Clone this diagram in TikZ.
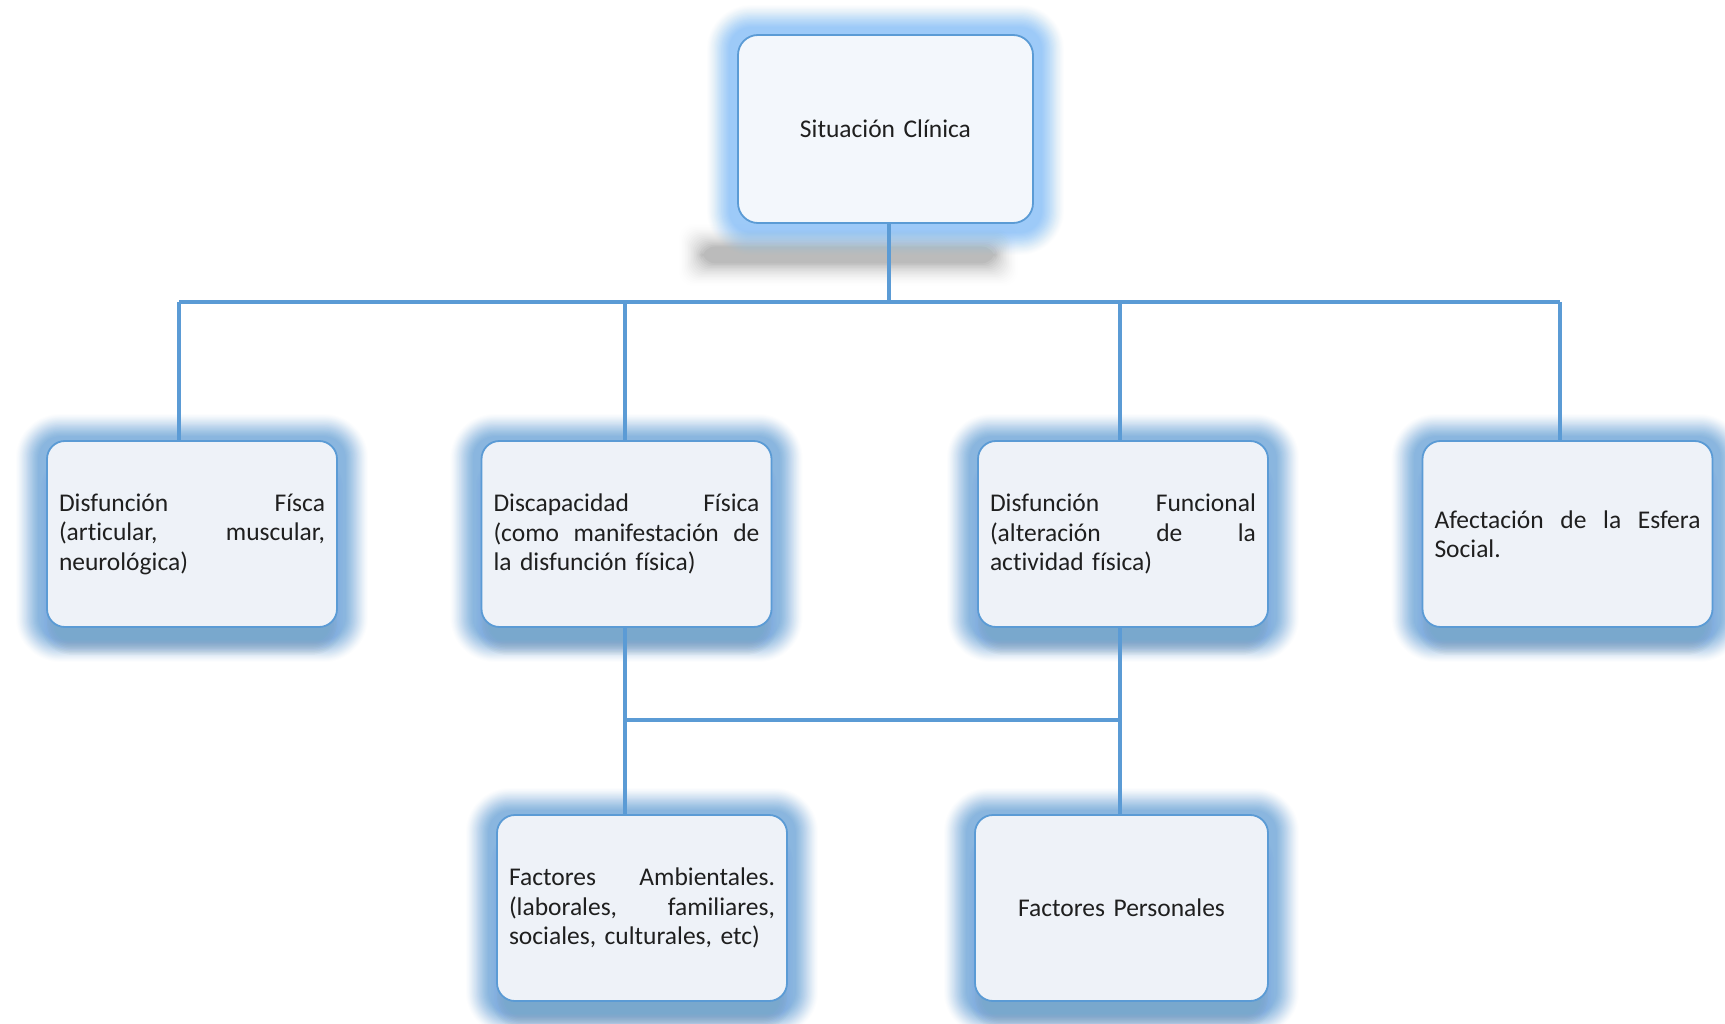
\documentclass[tikz,border=0pt]{standalone}
\usepackage{fontspec}
\setmainfont{Carlito}[Ligatures=NoCommon, WordSpace=0.85]
\usetikzlibrary{calc,backgrounds}

\definecolor{linkblue}{HTML}{5B9BD5}
\definecolor{haloblue}{HTML}{6EA8DF}
\definecolor{halotop}{HTML}{86C2F8}
\definecolor{boxfill}{HTML}{EEF2F8}
\definecolor{topfill}{HTML}{F3F7FC}
\definecolor{inkgray}{HTML}{1F1F1F}

\tikzset{
  card/.style={draw=linkblue, line width=1.8pt, fill=boxfill, rounded corners=18pt,
    minimum width=290pt, minimum height=186pt, inner sep=0pt, text width=266pt,
    align=left, font=\fontsize{25.5}{29.5}\selectfont, text=inkgray},
  link/.style={draw=linkblue, line width=3.4pt},
}

% soft coloured halo around a card: solid near the card, fading outwards
\newcommand{\halo}[3]{% node, colour, downward offset
  \foreach \k in {0,...,20}{%
    \pgfmathsetmacro\ee{8+1.1*\k}%
    \pgfmathsetmacro\rr{14+\ee}%
    \pgfmathsetmacro\op{0.11-0.0045*\k}%
    \fill[#2, opacity=\op, rounded corners=\rr pt]
      ($(#1.north west)+(-\ee,-\ee+#3)$) rectangle ($(#1.south east)+(\ee,\ee+#3)$);
  }}
% darker drop shade under a card
\newcommand{\dropshade}[1]{%
  \foreach \k in {1,...,10}{%
    \pgfmathsetmacro\rr{16+1.5*\k}%
    \fill[black, opacity=0.03, rounded corners=\rr pt]
      ($(#1.north west)+(10-1.5*\k,30-1.5*\k)$) rectangle ($(#1.south east)+(1.5*\k-10,12+1.5*\k)$);
  }}

\begin{document}
\begin{tikzpicture}[x=1pt, y=-1pt]
\begin{pgfonlayer}{background}
  \fill[white] (0,0) rectangle (1725,1024);
\end{pgfonlayer}
\useasboundingbox (0,0) rectangle (1725,1024);

% cards
\node[card, fill=topfill, align=center, minimum width=295pt, minimum height=188pt,
  rounded corners=20pt] (top) at (885.5,129) {Situación Clínica};

\node[card] (b1) at (192,534)
  {Disfunción\hfill Físca\\(articular,\hfill muscular,\\neurológica)};
\node[card] (b2) at (626.5,534)
  {Discapacidad\hfill Física\\(como\hfill manifestación\hfill de\\la disfunción física)};
\node[card] (b3) at (1123,534)
  {Disfunción\hfill Funcional\\(alteración\hfill de\hfill la\\actividad física)};
\node[card] (b4) at (1567.5,534)
  {Afectación\hfill de\hfill la\hfill Esfera\\Social.};

\node[card] (b5) at (642,908)
  {Factores\hfill Ambientales.\\(laborales,\hfill familiares,\\sociales, culturales, etc)};
\node[card, align=center, minimum width=293pt] (b6) at (1121.5,908) {Factores Personales};

% halos and shades behind the cards
\begin{pgfonlayer}{background}
  % floor shadow of the top card
  \foreach \k in {1,...,16}{%
    \pgfmathsetmacro\op{0.032-0.0018*\k}%
    \fill[black, opacity=\op, rounded corners=14pt]
      ($(top.south west)+(-34-1.5*\k,24-1.5*\k)$) rectangle ($(top.south east)+(-40+1.5*\k,38+1.5*\k)$);
  }
  \halo{top}{halotop}{1}
  \foreach \n in {b1,b2,b3,b4,b5,b6}{\dropshade{\n}\halo{\n}{haloblue}{4}}
\end{pgfonlayer}

% connector junctions
\coordinate (hub) at (889,302);
\coordinate (j1) at (179,302);
\coordinate (j2) at (625,302);
\coordinate (j3) at (1120,302);
\coordinate (j4) at (1560,302);
\coordinate (k2) at (625,720);
\coordinate (k3) at (1120,720);

% connectors
\draw[link] ([xshift=3.5pt]top.south) -- (hub);
\draw[link] (j1) -- (j4);
\draw[link] (j1) -- ([xshift=-13pt]b1.north);
\draw[link] (j2) -- ([xshift=-1.5pt]b2.north);
\draw[link] (j3) -- ([xshift=-3pt]b3.north);
\draw[link] (j4) -- ([xshift=-7.5pt]b4.north);

\draw[link] ([xshift=-1.5pt]b2.south) -- ([xshift=-17pt]b5.north);
\draw[link] ([xshift=-3pt]b3.south) -- ([xshift=-1.5pt]b6.north);
\draw[link] (k2) -- (k3);
\end{tikzpicture}
\end{document}
